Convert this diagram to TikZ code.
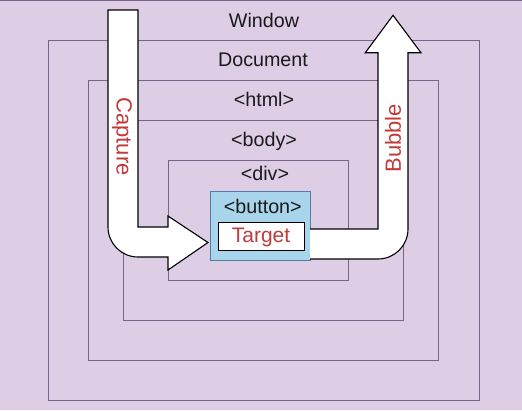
\documentclass[tikz,border=0pt]{standalone}
\usepackage{fontspec}
\setmainfont{Liberation Sans}
\definecolor{bgcol}{HTML}{DDCDE5}
\definecolor{boxline}{HTML}{76668A}
\definecolor{redtxt}{HTML}{C13B3B}
\definecolor{btnfill}{HTML}{A8D4EC}
\definecolor{btnline}{HTML}{4F7FA8}
\definecolor{darktxt}{HTML}{1A1A1A}
\begin{document}
\begin{tikzpicture}[x=1pt,y=-1pt,
  layerbox/.style={draw=boxline,line width=1pt},
  blockarrow/.style={fill=white,draw=black,line width=1.1pt,line join=miter},
  lbl/.style={anchor=base,text=darktxt,font=\fontsize{19.7}{22}\selectfont,inner sep=0pt},
  flowlbl/.style={text=redtxt,font=\fontsize{22}{24}\selectfont,inner sep=0pt}]
\useasboundingbox (0,0) rectangle (522,410);
\fill[bgcol] (0,0) rectangle (522,410);
\draw[boxline,line width=1pt] (0,0.5) -- (522,0.5);
% nested layers
\draw[layerbox] (48,40) rectangle (479,400);
\draw[layerbox] (88,80) rectangle (438,360);
\draw[layerbox] (123,120) rectangle (403,320);
\draw[layerbox] (168,160) rectangle (348,280);
% capture arrow
\draw[blockarrow] (108,10) -- (138,10) -- (138,227) -- (168,227) -- (168,216)
  -- (208,242.5) -- (168,270) -- (168,257) -- (138,257)
  .. controls (121.4,257) and (108,243.6) .. (108,227) -- cycle;
% button and target
\node[draw=btnline,fill=btnfill,line width=1pt,minimum width=100pt,minimum height=69.6pt,inner sep=0pt,anchor=north west] (button) at (210,190.7) {};
\node[draw=black,fill=white,line width=1pt,minimum width=85.4pt,minimum height=28pt,inner sep=0pt,anchor=north west] (target) at (218.3,222.3) {};
% bubble arrow
\path[blockarrow] (310,229) -- (378,229) -- (378,52.7) -- (365.3,52.7) -- (393,15.3)
  -- (421,52.7) -- (408,52.7) -- (408,229)
  .. controls (408,245.6) and (394.6,259) .. (378,259) -- (310,259);
% labels
\node[lbl] (lwindow) at (264,27.7) {Window};
\node[lbl] (ldocument) at (263,66.7) {Document};
\node[lbl] (lhtml) at (264,106.7) {<html>};
\node[lbl] (lbody) at (264,146.7) {<body>};
\node[lbl] (ldiv) at (265,180) {<div>};
\node[lbl] (lbutton) at (262.8,213.3) {<button>};
\node[lbl,text=redtxt,font=\fontsize{21}{23}\selectfont] (ltarget) at (261,242.3) {Target};
\node[flowlbl,rotate=-90] (lcapture) at (122,136.5) {Capture};
\node[flowlbl,rotate=90] (lbubble) at (393,138.3) {Bubble};
\end{tikzpicture}
\end{document}
